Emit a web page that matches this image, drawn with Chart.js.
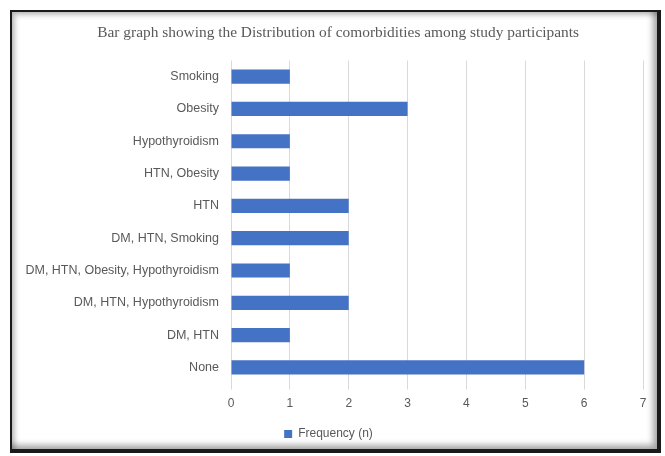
<!DOCTYPE html>
<html>
<head>
<meta charset="utf-8">
<script src="https://cdn.jsdelivr.net/npm/chart.js@4"></script>
<style>
    html, body { margin: 0; padding: 0; background: #fff; }
    .page { position: relative; width: 665px; height: 456px; overflow: hidden; }
    .frame {
        position: absolute; left: 10px; top: 10px; width: 645px; height: 437px;
        border: 2px solid #1a1a1a; border-right-width: 4px; border-bottom-width: 4px;
        box-shadow: inset -4px -4px 6px rgba(0,0,0,.35), inset 3px 3px 5px rgba(0,0,0,.25);
    }
    canvas { position: absolute; left: 0; top: 0; }
</style>
</head>
<body>
<div class="page">
    <div class="frame"></div>
    <canvas id="chart" width="665" height="456"></canvas>
</div>
<script>
const categories = [
    'Smoking',
    'Obesity',
    'Hypothyroidism',
    'HTN, Obesity',
    'HTN',
    'DM, HTN, Smoking',
    'DM, HTN, Obesity, Hypothyroidism',
    'DM, HTN, Hypothyroidism',
    'DM, HTN',
    'None'
];
const frequency = [1, 3, 1, 1, 2, 2, 1, 2, 1, 6];
const xTicks = [0, 1, 2, 3, 4, 5, 6, 7];

const grey = '#595959';

new Chart(document.getElementById('chart'), {
    type: 'bar',
    data: {
        labels: categories,
        datasets: [{
            label: 'Frequency (n)',
            data: frequency,
            backgroundColor: '#4472C4',
            barPercentage: 0.44,
            categoryPercentage: 1
        }]
    },
    options: {
        indexAxis: 'y',
        responsive: false,
        animation: false,
        layout: { padding: { left: 14, right: 22, top: 19, bottom: 6 } },
        plugins: {
            title: {
                display: true,
                // leading spaces nudge the centred title a little to the right, as in the original
                text: '     Bar graph showing the Distribution of comorbidities among study participants',
                color: grey,
                font: { family: 'Liberation Serif', size: 15.4, weight: 'normal' },
                padding: { top: 5, bottom: 18 }
            },
            legend: {
                position: 'bottom',
                labels: {
                    color: grey,
                    font: { family: 'Liberation Sans', size: 12 },
                    boxWidth: 8,
                    boxHeight: 8,
                    padding: 10
                }
            },
            tooltip: { enabled: false }
        },
        scales: {
            x: {
                min: 0,
                max: 7,
                afterBuildTicks: function (scale) {
                    scale.ticks = xTicks.map(v => ({ value: v }));
                },
                grid: { color: '#d9d9d9', drawTicks: true, tickLength: 6 },
                border: { display: false },
                ticks: { color: grey, font: { family: 'Liberation Sans', size: 12 }, padding: 7 }
            },
            y: {
                afterFit: function (scale) { scale.width = 217; },
                grid: { display: false },
                border: { display: false },
                ticks: { color: grey, font: { family: 'Liberation Sans', size: 12.5 }, padding: 4 }
            }
        }
    }
});
</script>
</body>
</html>
